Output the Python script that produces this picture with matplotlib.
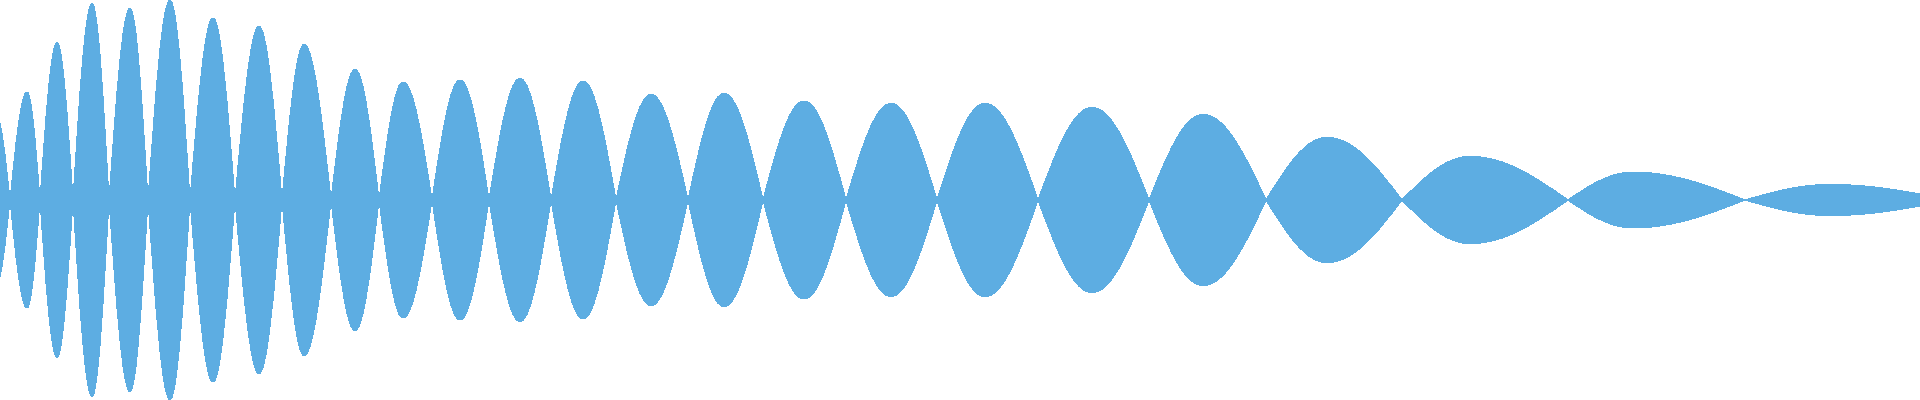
import numpy as np
import matplotlib
matplotlib.use('Agg')
import matplotlib.pyplot as plt
from matplotlib.path import Path
from matplotlib.patches import PathPatch

# waveform envelope (x in samples, amplitude normalised to 1)
zero_x = [-18, 10, 40, 73, 109, 148, 190, 235, 282, 331, 379, 432, 489, 551,
          616, 688, 763, 846, 937, 1038, 1149, 1266, 1402, 1568, 1745, 1950]
peak_x = [-4, 27, 57, 92, 130, 170, 213, 259, 304, 355, 403, 460, 520, 583,
          651, 724, 804, 891, 985, 1092, 1203, 1327, 1470, 1633, 1830]
peak_amp = [0.425, 0.54, 0.788, 0.983, 0.958, 0.998, 0.91, 0.868, 0.778, 0.653,
            0.59, 0.6, 0.608, 0.595, 0.528, 0.533, 0.495, 0.483, 0.483, 0.463,
            0.428, 0.313, 0.218, 0.14, 0.078]

color = '#5DADE2'

def half_wave(sign):
    # one side of the envelope as cubic bezier segments, left to right
    verts = [(zero_x[0], 0)]
    codes = [Path.MOVETO]
    for i in range(len(peak_x)):
        x0, xp, x1 = zero_x[i], peak_x[i], zero_x[i + 1]
        a = sign * peak_amp[i]
        w1 = xp - x0
        w2 = x1 - xp
        verts += [(x0 + 0.3261 * w1, 0.5123 * a), (x0 + 0.6381 * w1, a), (xp, a)]
        verts += [(xp + 0.3619 * w2, a), (xp + 0.6739 * w2, 0.5123 * a), (x1, 0)]
        codes += [Path.CURVE4] * 6
    return verts, codes

top_v, top_c = half_wave(1)
bot_v, bot_c = half_wave(-1)

# go along the top, then back along the bottom
verts = top_v + bot_v[::-1][1:] + [(zero_x[0], 0)]
codes = top_c + bot_c[1:] + [Path.CLOSEPOLY]

fig = plt.figure(figsize=(19.2, 4), dpi=100)
ax = fig.add_axes([0, 0, 1, 1])
ax.add_patch(PathPatch(Path(verts, codes), facecolor=color, edgecolor='none',
                       antialiased=False))
ax.set_xlim(0, 1920)
ax.set_ylim(-1, 1)
ax.axis('off')
plt.savefig('out.png', dpi=100)
